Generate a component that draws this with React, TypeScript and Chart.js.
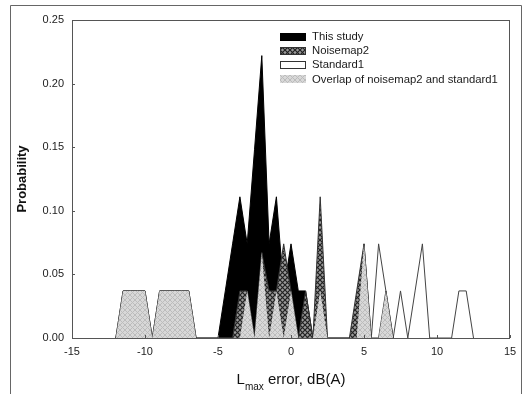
import { useEffect, useRef } from 'react';
import { Chart, registerables } from 'chart.js';

Chart.register(...registerables);

const legendLabels = ['This study', 'Noisemap2', 'Standard1', 'Overlap of noisemap2 and standard1'];

const xThisStudy = [-5, -4.5, -4, -3.5, -3, -2.5, -2, -1.5, -1, -0.5, 0, 0.5, 1, 1.5];
const yThisStudy = [0, 0.037, 0.074, 0.111, 0.074, 0.148, 0.222, 0.074, 0.111, 0.037, 0.074, 0.037, 0.037, 0];

const xNoisemap2 = [-12, -11.5, -11, -10.5, -10, -9.5, -9, -8.5, -8, -7.5, -7, -6.5, -4, -3.5, -3, -2.5, -2, -1.5, -1, -0.5, 0, 0.5, 1, 1.5, 2, 2.5, 4, 4.5, 5, 5.5, 6, 6.5, 7];
const yNoisemap2 = [0, 0.037, 0.037, 0.037, 0.037, 0, 0.037, 0.037, 0.037, 0.037, 0.037, 0, 0, 0.037, 0.037, 0, 0.067, 0.037, 0.037, 0.074, 0.037, 0, 0.037, 0, 0.111, 0, 0, 0.037, 0.074, 0, 0, 0.037, 0];

const xStandard1 = [-12, -11.5, -11, -10.5, -10, -9.5, -9, -8.5, -8, -7.5, -7, -6.5, -3.5, -3, -2.5, -2, -1.5, -1, -0.5, 0, 0.5, 1.5, 2, 2.5, 4.5, 5, 5.5, 6, 6.5, 7, 7.5, 8, 8.5, 9, 9.5, 11, 11.5, 12, 12.5];
const yStandard1 = [0, 0.037, 0.037, 0.037, 0.037, 0, 0.037, 0.037, 0.037, 0.037, 0.037, 0, 0, 0.037, 0, 0.067, 0, 0.037, 0, 0.037, 0, 0, 0.037, 0, 0, 0.074, 0, 0.074, 0.037, 0, 0.037, 0, 0.037, 0.074, 0, 0, 0.037, 0.037, 0];

const xOverlap = [-12, -11.5, -11, -10.5, -10, -9.5, -9, -8.5, -8, -7.5, -7, -6.5, -3.5, -3, -2.5, -2, -1.5, -1, -0.5, 0, 0.5, 1.5, 2, 2.5, 4.5, 5, 5.5, 6, 6.5, 7];
const yOverlap = [0, 0.037, 0.037, 0.037, 0.037, 0, 0.037, 0.037, 0.037, 0.037, 0.037, 0, 0, 0.037, 0, 0.067, 0, 0.037, 0, 0.037, 0, 0, 0.037, 0, 0, 0.074, 0, 0, 0.037, 0];

const xTitleMain = 'L';
const xTitleSub = 'max';
const xTitleRest = ' error, dB(A)';
const yTitle = 'Probability';

function makePattern(bg: string, line: string, size: number, lw: number): CanvasPattern | string {
  const c = document.createElement('canvas');
  c.width = size;
  c.height = size;
  const g = c.getContext('2d');
  if (!g) return bg;
  g.fillStyle = bg;
  g.fillRect(0, 0, size, size);
  g.strokeStyle = line;
  g.lineWidth = lw;
  g.beginPath();
  g.moveTo(0, 0);
  g.lineTo(size, size);
  g.moveTo(size, 0);
  g.lineTo(0, size);
  g.stroke();
  const p = g.createPattern(c, 'repeat');
  return p || bg;
}

const FONT = '"Liberation Sans", Arial, sans-serif';

export default function App() {
  const ref = useRef<HTMLCanvasElement>(null);

  useEffect(() => {
    document.body.style.margin = '0';
    const canvas = ref.current;
    if (!canvas) return;
    const dark = makePattern('#9a9a9a', '#222222', 5, 1.2);
    const light = makePattern('#d8d8d8', '#bcbcbc', 5, 1);
    const pts = (xs: number[], ys: number[]) => xs.map((x, i) => ({ x, y: ys[i] }));

    const decor = {
      id: 'decor',
      beforeDraw(chart: any) {
        const ctx = chart.ctx as CanvasRenderingContext2D;
        ctx.save();
        ctx.fillStyle = '#ffffff';
        ctx.fillRect(0, 0, chart.width, chart.height);
        ctx.strokeStyle = '#666';
        ctx.lineWidth = 1;
        ctx.beginPath();
        ctx.moveTo(10.5, chart.height);
        ctx.lineTo(10.5, 5.5);
        ctx.lineTo(521.5, 5.5);
        ctx.lineTo(521.5, chart.height);
        ctx.stroke();
        ctx.restore();
      },
      afterDatasetsDraw(chart: any) {
        const ctx = chart.ctx as CanvasRenderingContext2D;
        const ca = chart.chartArea;
        const xs = chart.scales.x;
        const ys = chart.scales.y;
        ctx.save();
        ctx.strokeStyle = '#555';
        ctx.lineWidth = 1;
        ctx.strokeRect(ca.left + 0.5, ca.top + 0.5, ca.right - ca.left - 1, ca.bottom - ca.top);
        ctx.beginPath();
        xs.ticks.forEach((t: any) => {
          const px = Math.round(xs.getPixelForValue(t.value)) + 0.5;
          ctx.moveTo(px, ca.bottom);
          ctx.lineTo(px, ca.bottom - 3);
        });
        ys.ticks.forEach((t: any) => {
          const py = Math.round(ys.getPixelForValue(t.value)) + 0.5;
          ctx.moveTo(ca.left, py);
          ctx.lineTo(ca.left + 3, py);
        });
        ctx.stroke();
        ctx.restore();
      },
      afterDraw(chart: any) {
        const ctx = chart.ctx as CanvasRenderingContext2D;
        const ca = chart.chartArea;
        ctx.save();
        ctx.font = `11.3px ${FONT}`;
        ctx.textBaseline = 'middle';
        ctx.textAlign = 'left';
        const fills: (string | CanvasPattern)[] = ['#000', dark, '#fff', light];
        const strokes: (string | null)[] = ['#000', '#333', '#333', null];
        legendLabels.forEach((lab, i) => {
          const cy = 36.5 + i * 14.3;
          const bx = 280;
          const by = Math.round(cy - 4);
          ctx.fillStyle = fills[i] as any;
          ctx.fillRect(bx, by, 26, 8);
          const s = strokes[i];
          if (s) {
            ctx.strokeStyle = s;
            ctx.lineWidth = 1;
            ctx.strokeRect(bx + 0.5, by + 0.5, 25, 7);
          }
          ctx.fillStyle = '#1a1a1a';
          ctx.fillText(lab, 312, cy);
        });
        ctx.save();
        ctx.translate(22, (ca.top + ca.bottom) / 2);
        ctx.rotate(-Math.PI / 2);
        ctx.font = `bold 13px ${FONT}`;
        ctx.textAlign = 'center';
        ctx.textBaseline = 'middle';
        ctx.fillStyle = '#111';
        ctx.fillText(yTitle, 0, 0);
        ctx.restore();
        ctx.fillStyle = '#111';
        ctx.textBaseline = 'alphabetic';
        ctx.font = `15px ${FONT}`;
        const wMain = ctx.measureText(xTitleMain).width;
        const wRest = ctx.measureText(xTitleRest).width;
        ctx.font = `10px ${FONT}`;
        const wSub = ctx.measureText(xTitleSub).width;
        const total = wMain + wSub + wRest;
        let x0 = (ca.left + ca.right) / 2 - total / 2;
        ctx.font = `15px ${FONT}`;
        ctx.fillText(xTitleMain, x0, 383.5);
        x0 += wMain;
        ctx.font = `10px ${FONT}`;
        ctx.fillText(xTitleSub, x0, 390);
        x0 += wSub;
        ctx.font = `15px ${FONT}`;
        ctx.fillText(xTitleRest, x0, 383.5);
        ctx.restore();
      },
    };

    const chart = new Chart(canvas, {
      type: 'line',
      data: {
        datasets: [
          {
            label: legendLabels[0],
            data: pts(xThisStudy, yThisStudy),
            backgroundColor: '#000',
            borderColor: '#000',
            borderWidth: 1,
            fill: 'origin',
            order: 4,
          },
          {
            label: legendLabels[1],
            data: pts(xNoisemap2, yNoisemap2),
            backgroundColor: dark as any,
            borderColor: '#333',
            borderWidth: 1,
            fill: 'origin',
            order: 2,
          },
          {
            label: legendLabels[2],
            data: pts(xStandard1, yStandard1),
            backgroundColor: '#fff',
            borderColor: '#444',
            borderWidth: 1,
            fill: 'origin',
            order: 3,
          },
          {
            label: legendLabels[3],
            data: pts(xOverlap, yOverlap),
            backgroundColor: light as any,
            borderColor: 'rgba(0,0,0,0)',
            borderWidth: 0,
            fill: 'origin',
            order: 1,
          },
        ],
      },
      options: {
        responsive: false,
        animation: false,
        layout: { padding: { left: 0, right: 18, top: 20, bottom: 0 } },
        elements: { point: { radius: 0, hoverRadius: 0 }, line: { tension: 0 } },
        plugins: { legend: { display: false }, tooltip: { enabled: false } },
        events: [],
        scales: {
          x: {
            type: 'linear',
            min: -15,
            max: 15,
            ticks: { stepSize: 5, color: '#222', font: { family: FONT, size: 11 }, padding: 7 },
            grid: { display: false, drawTicks: false },
            border: { display: false },
            afterFit: (s: any) => {
              s.height = 56;
            },
          },
          y: {
            type: 'linear',
            min: 0,
            max: 0.25,
            ticks: {
              stepSize: 0.05,
              color: '#222',
              font: { family: FONT, size: 11 },
              padding: 8,
              callback: (v: any) => Number(v).toFixed(2),
            },
            grid: { display: false, drawTicks: false },
            border: { display: false },
            afterFit: (s: any) => {
              s.width = 72;
            },
          },
        },
      } as any,
      plugins: [decor],
    });
    return () => chart.destroy();
  }, []);

  return (
    <div style={{ width: 528, height: 394, overflow: 'hidden' }}>
      <canvas ref={ref} width={528} height={394} style={{ display: 'block' }} />
    </div>
  );
}
